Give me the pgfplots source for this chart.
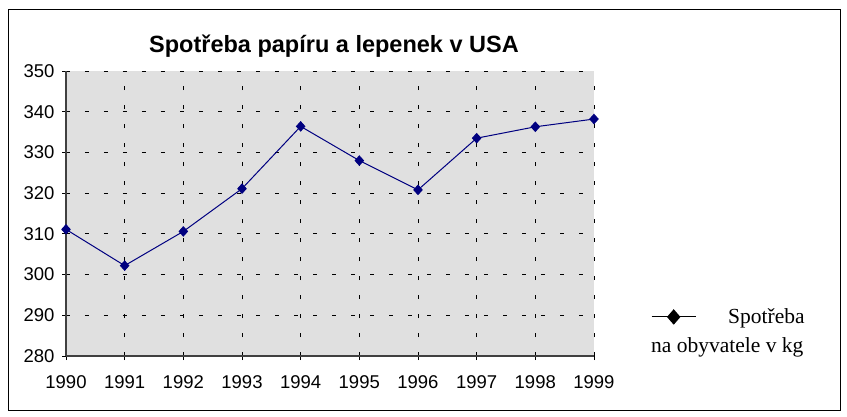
\documentclass[border=0pt]{standalone}
\usepackage{fontspec}
\setmainfont{Liberation Sans}
\newfontfamily\legfont{Liberation Serif}
\usepackage{pgfplots}
\pgfplotsset{compat=1.18}
\definecolor{navyline}{RGB}{0,0,128}
\definecolor{plotbg}{RGB}{224,224,224}
\begin{document}
\begin{tikzpicture}[x=1pt,y=1pt]
\useasboundingbox (0,0) rectangle (847,416);
\draw[black,line width=1pt] (8,6) rectangle (840,406);
\node[anchor=base, font=\fontsize{23.5}{26}\selectfont\bfseries] at (334,363) {Spotřeba papíru a lepenek v USA};
\begin{axis}[
  at={(66pt,60pt)}, anchor=south west,
  scale only axis, width=528pt, height=285pt,
  xmin=1990, xmax=1999, ymin=280, ymax=350,
  xtick={1990,...,1999}, ytick={280,290,...,350},
  /pgf/number format/assume math mode=true,
  xticklabel style={/pgf/number format/1000 sep={}, font=\fontsize{18.5}{21}\selectfont, yshift=-12pt},
  yticklabel style={font=\fontsize{18.5}{21}\selectfont, xshift=-4pt},
  axis x line*=bottom, axis y line*=left,
  axis line style={-, draw=black!75, line width=1.3pt},
  tick align=outside, major tick length=4pt,
  tick style={black, line width=0.8pt},
  grid=major,
  major grid style={black, line width=0.8pt, dash pattern=on 4pt off 15pt},
  axis background/.style={fill=plotbg},
  legend style={draw=none, fill=none, inner sep=0pt, at={(1.108,0.137)}, anchor=west,
    font=\legfont\fontsize{21.5}{24}\selectfont, nodes={inner sep=0pt}, column sep=32pt},
  legend image code/.code={
    \draw[black, line width=1pt] (0pt,0pt) -- (44pt,0pt);
    \draw[black, fill=black] plot[mark=diamond*, mark size=7pt, mark options={xscale=1.15}] coordinates {(22pt,0pt)};
  },
  clip=false,
]
\addplot[navyline, line width=1pt, mark=diamond*, mark size=4.6pt, mark options={fill=navyline, draw=navyline, xscale=1.2}]
coordinates {
(1990,311.1) (1991,302.2) (1992,310.6) (1993,321.1) (1994,336.4)
(1995,328.0) (1996,320.8) (1997,333.5) (1998,336.3) (1999,338.2)
};
\addlegendentry{Spotřeba}
\node[anchor=base west, inner sep=0pt, font=\legfont\fontsize{21.5}{24}\selectfont] at (axis description cs:1.108,0.014) {na obyvatele v kg};
\end{axis}
\end{tikzpicture}
\end{document}
